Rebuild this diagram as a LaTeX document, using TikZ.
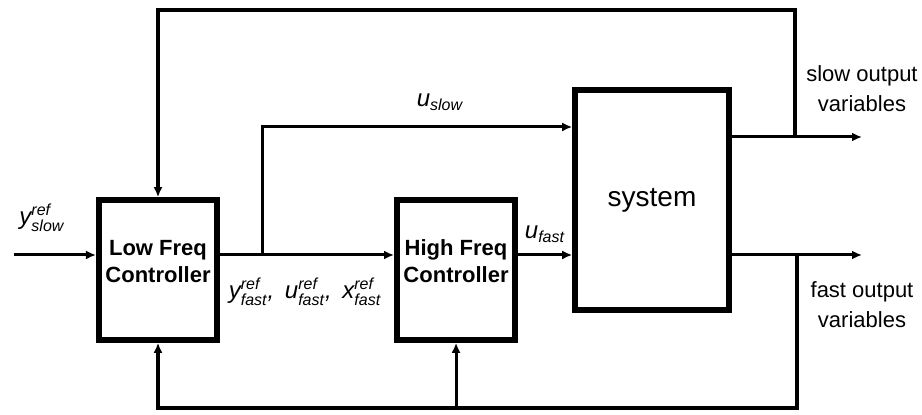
\documentclass[tikz,border=0pt]{standalone}
\usepackage{fontspec}
\setmainfont{Liberation Sans}
\usepackage{amsmath}
\usetikzlibrary{positioning,arrows.meta}

\begin{document}
\begin{tikzpicture}[x=0.5pt,y=-0.5pt,node distance=87pt,
    block/.style={rectangle,draw,line width=2.8pt,minimum width=58pt,minimum height=70pt,align=center,text depth=9pt,font=\fontsize{11}{13.5}\selectfont\bfseries},
    plant/.style={rectangle,draw,line width=2.8pt,minimum width=77pt,minimum height=110pt,font=\fontsize{14}{16}\selectfont},
    arrow/.style={-{Latex[length=5pt,width=4.5pt]},line width=1.5pt},
    link/.style={line width=1.5pt},
    loop/.style={line width=2pt},
    var/.style={font=\fontsize{12}{14}\selectfont,inner sep=0pt},
    lbl/.style={font=\fontsize{11}{15}\selectfont,align=center,inner sep=0pt}]
    \useasboundingbox (0,0) rectangle (922,415);
    % blocks
    \node[block] (lf) at (158,270) {Low Freq\\Controller};
    \node[block,right=of lf] (hf) {High Freq\\Controller};
    \node[plant] (sys) at (652,200) {system};
    % helper points
    \coordinate (in) at (14,255);
    \coordinate (split) at (262,255);
    \coordinate (uslowlvl) at (0,127);
    \coordinate (slow) at (862,137);
    \coordinate (fast) at (862,255);
    \coordinate (tapS) at (795,137);
    \coordinate (tapF) at (797,255);
    \coordinate (fbtop) at (795,10);
    \coordinate (fbbot) at (797,408);
    % forward path
    \draw[arrow] (in) -- (lf.west |- in);
    \draw[link] (lf.east |- split) -- (split);
    \draw[arrow] (split) -- (hf.west |- split);
    \draw[arrow] (split) |- (sys.west |- uslowlvl);
    \draw[arrow] (hf.east |- split) -- (sys.west |- split);
    \draw[arrow] (sys.east |- slow) -- (slow);
    \draw[arrow] (sys.east |- fast) -- (fast);
    % feedback
    \draw[loop,-{Latex[length=5pt,width=4.5pt]}] (tapS) -- (fbtop) -| (lf.north);
    \draw[loop,-{Latex[length=5pt,width=4.5pt]}] (tapF) -- (fbbot) -| (lf.south);
    \draw[arrow] (hf.south |- fbbot) -- (hf.south);
    % labels
    \node[var] (yslow) at (42,218) {$\textit{y}^{\textit{ref}}_{\textit{slow}}$};
    \node[var] (uslow) at (440,102) {$\textit{u}_{\textit{slow}}$};
    \node[var] (ufast) at (545,234) {$\textit{u}_{\textit{fast}}$};
    \node[var] (refs) at (305,292) {$\textit{y}^{\textit{ref}}_{\textit{fast}}$\textit{,}\, $\textit{u}^{\textit{ref}}_{\textit{fast}}$\textit{,}\, $\textit{x}^{\textit{ref}}_{\textit{fast}}$};
    \node[lbl] (slowout) at (862,89) {slow output\\variables};
    \node[lbl] (fastout) at (862,305) {fast output\\variables};
\end{tikzpicture}
\end{document}
